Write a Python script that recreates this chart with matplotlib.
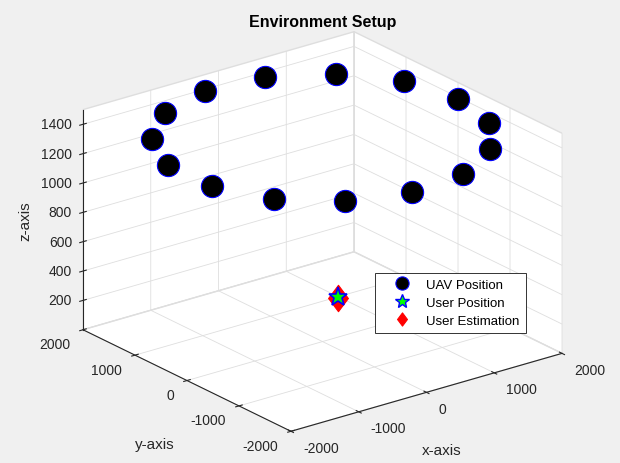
import numpy as np
import matplotlib
matplotlib.use('Agg')
import matplotlib.pyplot as plt
from matplotlib.lines import Line2D
from matplotlib.path import Path
from mpl_toolkits.mplot3d import proj3d

plt.rcParams['font.family'] = ['Liberation Sans', 'DejaVu Sans']
plt.rcParams['grid.color'] = '#dedede'
plt.rcParams['grid.linewidth'] = 0.6
plt.rcParams['axes.unicode_minus'] = False

# ---- data ----
uav_x = [2000, 1827, 1338, 618, -209, -1000, -1618, -1956, -1956, -1618, -1000, -209, 618, 1338, 1827]
uav_y = [0, 813, 1486, 1902, 1989, 1732, 1176, 416, -416, -1176, -1732, -1989, -1902, -1486, -813]
uav_z = [1390, 1390, 1390, 1390, 1390, 1390, 1390, 1390, 1390, 1390, 1390, 1390, 1390, 1390, 1390]
user_x = [1000]
user_y = [1000]
user_z = [0]
est_x = [972]
est_y = [965]
est_z = [0]
xy_ticks = [-2000, -1000, 0, 1000, 2000]
z_ticks = [200, 400, 600, 800, 1000, 1200, 1400]
x_lim = (-2000, 2000)
y_lim = (-2000, 2000)
z_lim = (0, 1500)
labels = ['UAV Position', 'User Position', 'User Estimation']
title = 'Environment Setup'
axis_names = ('x-axis', 'y-axis', 'z-axis')

W, H = 620, 464
TXT = '#262626'
fig = plt.figure(figsize=(W / 100, H / 100), dpi=100, facecolor='#f0f0f0')
ax = fig.add_axes([0, 0, 1, 1], projection='3d', proj_type='ortho', computed_zorder=False)
ax.patch.set_alpha(0)
aspect = (1, 1, 0.695)
ax.set_box_aspect(aspect)
ax.view_init(elev=22, azim=-127.5)

diamond = Path([(0, 1), (0.75, 0), (0, -1), (-0.75, 0), (0, 1)],
               [Path.MOVETO, Path.LINETO, Path.LINETO, Path.LINETO, Path.CLOSEPOLY])

ax.plot(uav_x, uav_y, uav_z, linestyle='none', marker='o', markersize=16,
        markerfacecolor='black', markeredgecolor='blue', markeredgewidth=0.8, zorder=3)
ax.plot(est_x, est_y, est_z, linestyle='none', marker=diamond, markersize=19,
        markerfacecolor='red', markeredgecolor='red', markeredgewidth=0.8, zorder=4)
ax.plot(user_x, user_y, user_z, linestyle='none', marker='*', markersize=14,
        markerfacecolor=(0, 1, 0), markeredgecolor='blue', markeredgewidth=1.2, zorder=5)

ax.set_xlim(*x_lim)
ax.set_ylim(*y_lim)
ax.set_zlim(*z_lim)
ax.set_xticks(xy_ticks)
ax.set_yticks(xy_ticks)
ax.set_zticks(z_ticks)
ax.set_xticklabels([])
ax.set_yticklabels([])
ax.set_zticklabels([])
ax.tick_params(colors=TXT)

for axis in (ax.xaxis, ax.yaxis, ax.zaxis):
    axis.set_pane_color((1, 1, 1, 1))
    axis.pane.set_edgecolor('#dedede')
    axis.line.set_color(TXT)
    axis.line.set_linewidth(0.8)
    axis._axinfo['tick']['inward_factor'] = 0.15
    axis._axinfo['tick']['outward_factor'] = 0.15
    axis._axinfo['tick']['linewidth'] = {True: 0.8, False: 0.5}
    axis._axinfo['tick']['color'] = TXT

fig.text(323 / W, 1 - 23 / H, title, ha='center', va='center',
         fontsize=11.5, fontweight='bold', color='black')

# legend with proxy handles
handles = [
    Line2D([], [], linestyle='none', marker='o', markersize=9.5,
           markerfacecolor='black', markeredgecolor='blue', markeredgewidth=0.8),
    Line2D([], [], linestyle='none', marker='*', markersize=10,
           markerfacecolor=(0, 1, 0), markeredgecolor='blue', markeredgewidth=1.0),
    Line2D([], [], linestyle='none', marker=diamond, markersize=9.5,
           markerfacecolor='red', markeredgecolor='red', markeredgewidth=0.8),
]
leg = fig.legend(handles, labels, loc='lower left', bbox_to_anchor=(375 / W, 1 - 334 / H),
                 fontsize=9.5, frameon=True, fancybox=False, framealpha=1,
                 edgecolor='#333333', handlelength=3.2, handletextpad=0.25,
                 labelspacing=0.45, borderpad=0.45, borderaxespad=0)
leg.get_frame().set_linewidth(0.7)


# ---- calibrate layout so the box matches the reference frame ----
def proj_px(x, y, z):
    M = ax.get_proj()
    xs, ys, _ = proj3d.proj_transform(x, y, z, M)
    dx, dy = ax.transData.transform((xs, ys))
    return dx, H - dy

fig.canvas.draw()
left = proj_px(x_lim[0], y_lim[1], z_lim[0])
right = proj_px(x_lim[1], y_lim[0], z_lim[0])
zoom = 479 / (right[0] - left[0])
ax.set_box_aspect(aspect, zoom=zoom)
fig.canvas.draw()
left = proj_px(x_lim[0], y_lim[1], z_lim[0])
right = proj_px(x_lim[1], y_lim[0], z_lim[0])
front = proj_px(x_lim[0], y_lim[0], z_lim[0])
backtop = proj_px(x_lim[1], y_lim[1], z_lim[1])
cx = (left[0] + right[0]) / 2
cy = (front[1] + backtop[1]) / 2
pos = ax.get_position()
ax.set_position([pos.x0 + (322.5 - cx) / W, pos.y0 - (232.5 - cy) / H, pos.width, pos.height])
fig.canvas.draw()


def put(px, py, s, **kw):
    fig.text(px / W, 1 - py / H, s, color=TXT, **kw)

# tick labels (MATLAB style placement)
for v in xy_ticks:
    px, py = proj_px(v, y_lim[0], z_lim[0])
    put(px + 12, py + 16.5, str(v), ha='left', va='center', fontsize=10)
for v in xy_ticks:
    px, py = proj_px(x_lim[0], v, z_lim[0])
    put(px - 13, py + 14.5, str(v), ha='right', va='center', fontsize=10)
for v in z_ticks:
    px, py = proj_px(x_lim[0], y_lim[1], v)
    put(px - 11, py, str(v), ha='right', va='center', fontsize=10)

# axis labels
px, py = proj_px(0, y_lim[0], z_lim[0])
put(px + 15, py + 58, axis_names[0], ha='center', va='center', fontsize=11)
px, py = proj_px(x_lim[0], 0, z_lim[0])
put(px - 32.5, py + 63, axis_names[1], ha='center', va='center', fontsize=11)
px, py = proj_px(x_lim[0], y_lim[1], (z_lim[0] + z_lim[1]) / 2)
put(px - 58, py, axis_names[2], ha='center', va='center', fontsize=11, rotation=90)

fig.savefig('out.png', dpi=100, facecolor=fig.get_facecolor())
